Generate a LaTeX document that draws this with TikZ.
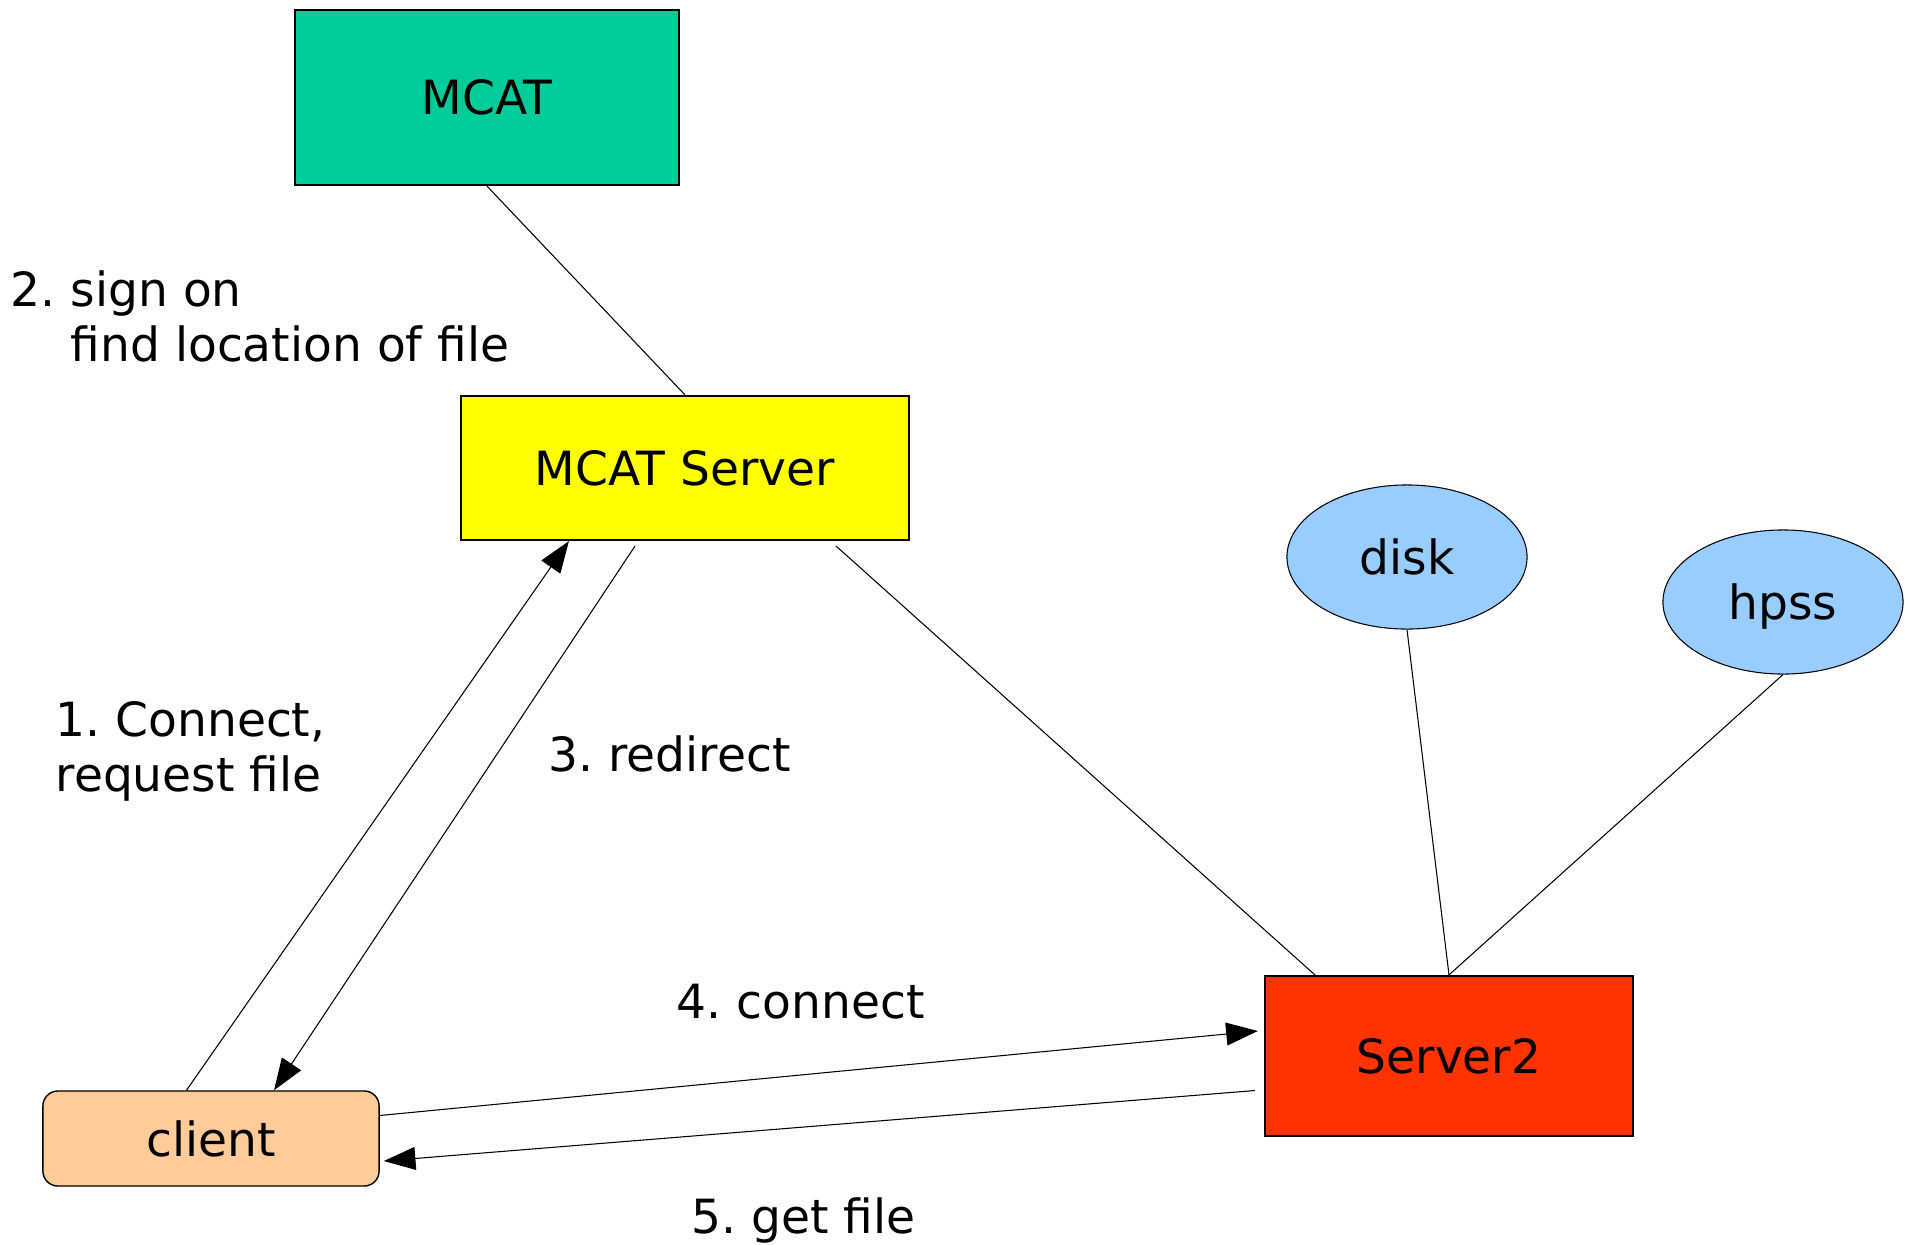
\documentclass[tikz,border=0pt]{standalone}
\usepackage{fontspec}
\setmainfont{DejaVu Sans}
\usetikzlibrary{arrows.meta,shapes.geometric}
\definecolor{mcatgreen}{HTML}{00CC99}
\definecolor{mcatyellow}{HTML}{FFFF00}
\definecolor{srvred}{HTML}{FF3300}
\definecolor{storeblue}{HTML}{99CCFF}
\definecolor{clientorange}{HTML}{FFCC99}

\begin{document}
\begin{tikzpicture}[x=0.01cm,y=-0.01cm]
	\tikzstyle{every node}+=[inner sep=0pt,font=\fontsize{13.4}{15.6}\selectfont]
	\tikzstyle{box}=[draw=black,line width=0.6pt]
	\tikzstyle{store}=[ellipse,draw=black,line width=0.3pt,fill=storeblue,minimum width=2.4cm,minimum height=1.44cm,text depth=0pt]
	\tikzstyle{link}=[black,line width=0.3pt]
	\tikzstyle{arr}=[link,-{Triangle[length=9pt,width=6.5pt]}]
	\useasboundingbox (0,0) rectangle (1911,1245);
	\node [box,fill=mcatgreen,minimum width=3.84cm,minimum height=1.75cm] (mcat) at (487,97.5) {MCAT};
	\node [box,fill=mcatyellow,minimum width=4.48cm,minimum height=1.44cm] (mcatsrv) at (685,468) {MCAT Server};
	\node [store] (disk) at (1407,557) {disk};
	\node [store] (hpss) at (1783,602) {hpss};
	\node [box,fill=srvred,minimum width=3.68cm,minimum height=1.6cm] (srv2) at (1449,1056) {Server2};
	\node [box,line width=0.4pt,rounded corners=0.15cm,fill=clientorange,minimum width=3.36cm,minimum height=0.95cm] (client) at (211,1138.5) {client};
	\node [anchor=west,align=left] (signon) at (10,316.5) {2.~sign on\\\phantom{2.~}find location of file};
	\node [anchor=west,align=left] (connreq) at (55,751) {1.~Connect,\\request file};
	\node [anchor=west] (redir) at (548,754) {3.~redirect};
	\node [anchor=west] (conn) at (676,1002) {4.~connect};
	\node [anchor=west] (getfile) at (691,1220) {5.~get file};
	\draw [link] (mcat.south) -- (mcatsrv.north);
	\draw [arr] ([xshift=-0.245cm]client.north) -- ([xshift=-1.16cm]mcatsrv.south);
	\draw [arr] ([xshift=-0.5cm,yshift=-0.05cm]mcatsrv.south) -- ([xshift=0.63cm]client.north);
	\draw [link] ([xshift=1.51cm,yshift=-0.05cm]mcatsrv.south) -- ([xshift=-1.34cm]srv2.north);
	\draw [link] (disk.south) -- (srv2.north);
	\draw [link] (hpss.south) -- (srv2.north);
	\draw [arr] ([yshift=0.23cm]client.east) -- ([xshift=-0.06cm,yshift=0.25cm]srv2.west);
	\draw [arr] ([xshift=-0.09cm,yshift=-0.345cm]srv2.west) -- ([xshift=0.04cm,yshift=-0.225cm]client.east);
\end{tikzpicture}
\end{document}
